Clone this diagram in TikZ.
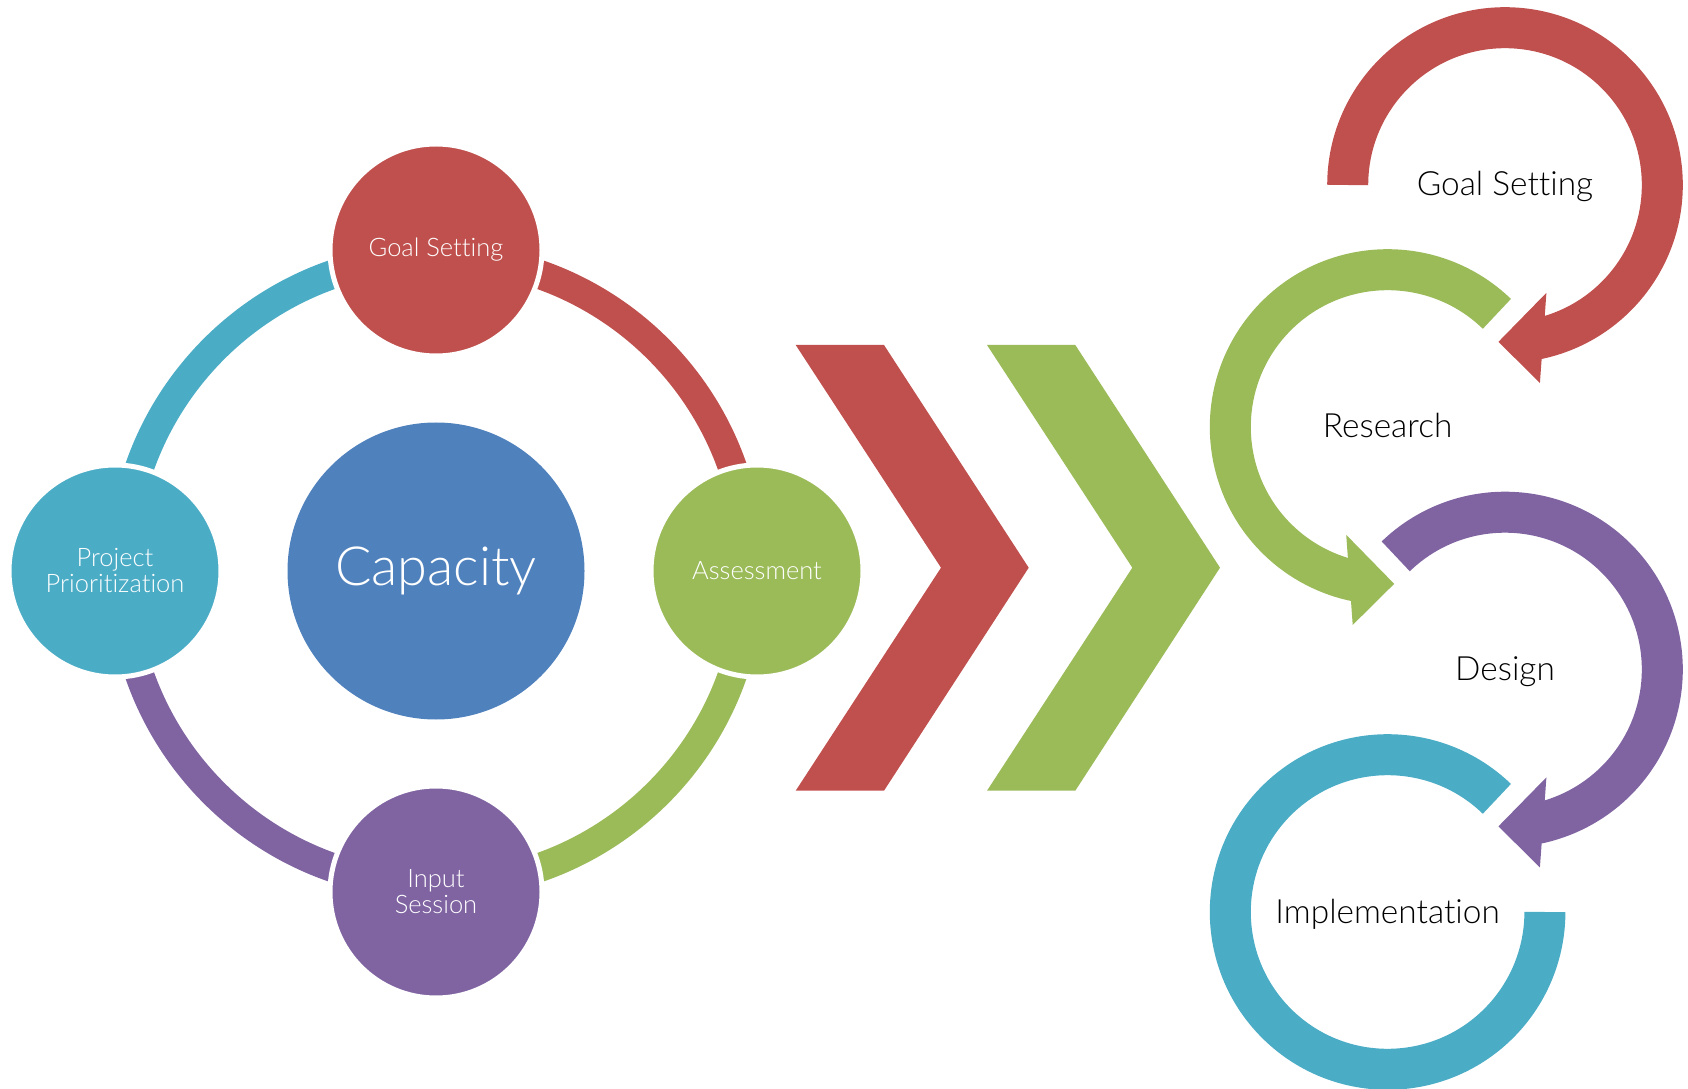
\documentclass[tikz,border=0pt]{standalone}
\usepackage{fontspec}
\setmainfont{Lato}[UprightFont=* Light, Ligatures=CommonOff]
\usetikzlibrary{calc, backgrounds}

\definecolor{capRed}{HTML}{C0504D}
\definecolor{capGreen}{HTML}{9BBB59}
\definecolor{capPurple}{HTML}{8064A2}
\definecolor{capAqua}{HTML}{4BACC6}
\definecolor{capBlue}{HTML}{4F81BD}

\tikzset{
    hub/.style={circle, fill=capBlue, minimum size=297pt, inner sep=0pt, text=white, font=\fontsize{54}{60}\selectfont},
    stage/.style={circle, fill=#1, draw=white, line width=5pt, minimum size=212pt, inner sep=0pt, text=white, align=center, font=\fontsize{25.5}{26}\selectfont},
    orbit/.style={draw=#1, line width=29pt},
    chevron/.style={fill=#1},
    cyclearrow/.style={draw=#1, line width=41pt},
    looplabel/.style={anchor=base, text=black, font=\fontsize{33.4}{36}\selectfont},
}

\begin{document}
\begin{tikzpicture}[x=1pt, y=1pt]
        \useasboundingbox (0,0) rectangle (1688,1088);

        % cycle round the hub
        \node[hub] (cap) at (436,517) {Capacity};
        \node[stage=capRed] (goal) at (436,838) {Goal Setting};
        \node[stage=capGreen] (assess) at (757,517) {Assessment};
        \node[stage=capPurple] (input) at (436,196) {Input\\Session};
        \node[stage=capAqua] (prio) at (115,517) {Project\\Prioritization};

        \begin{scope}[on background layer]
            \foreach \a/\col in {90/capRed, 0/capGreen, -90/capPurple, 180/capAqua}
                \draw[orbit=\col] ([shift={(\a:314)}]cap.center) arc[start angle=\a, end angle=\a-90, radius=314];
        \end{scope}

        % chevrons
        \foreach \dx/\col in {0/capRed, 191.3/capGreen}
            \fill[chevron=\col, xshift=\dx] (795.7,743) -- (884,743) -- (1028.7,520.3) -- (884,297.3) -- (795.7,297.3) -- (941,520.3) -- cycle;

        % loops
        \coordinate (goalO) at (1505,903);
        \coordinate (resO) at (1387.6,661);
        \coordinate (desO) at (1505,418.5);
        \coordinate (impO) at (1387.6,176);

        \node[looplabel] (goalT) at ([yshift=-11pt]goalO) {Goal Setting};
        \node[looplabel] (resT) at ([yshift=-11pt]resO) {Research};
        \node[looplabel] (desT) at ([yshift=-11pt]desO) {Design};
        \node[looplabel] (impT) at ([yshift=-11pt]impO) {Implementation};

        \draw[cyclearrow=capRed] ([shift={(180:157.3)}]goalO) arc[start angle=180, end angle=-79, radius=157.3];
        \fill[capRed] ([shift={(-69:115.5)}]goalO) -- ([shift={(-92.4:157)}]goalO) -- ([shift={(-80:201)}]goalO) -- cycle;

        \draw[cyclearrow=capGreen] ([shift={(46:157.3)}]resO) arc[start angle=46, end angle=259, radius=157.3];
        \fill[capGreen] ([shift={(249:115.5)}]resO) -- ([shift={(272.4:157)}]resO) -- ([shift={(260:201)}]resO) -- cycle;

        \draw[cyclearrow=capPurple] ([shift={(134:157.3)}]desO) arc[start angle=134, end angle=-79, radius=157.3];
        \fill[capPurple] ([shift={(-69:115.5)}]desO) -- ([shift={(-92.4:157)}]desO) -- ([shift={(-80:201)}]desO) -- cycle;

        \draw[cyclearrow=capAqua] ([shift={(46:157.3)}]impO) arc[start angle=46, end angle=360, radius=157.3];
    \end{tikzpicture}
\end{document}
